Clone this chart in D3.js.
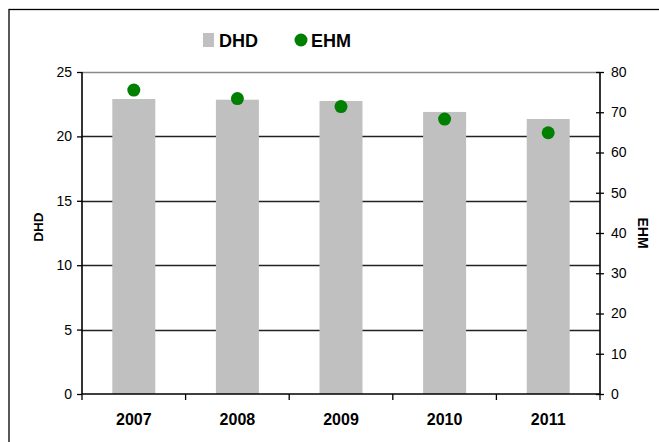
<!DOCTYPE html>
<html>
<head>
<meta charset="utf-8">
<script src="https://cdn.jsdelivr.net/npm/d3@7"></script>
<style>
  html, body { margin: 0; padding: 0; background: #fff; }
  svg { display: block; font-family: Arial, "Liberation Sans", sans-serif; }
</style>
</head>
<body>
<svg id="chart" width="659" height="442"></svg>
<script>
// Yearly values: DHD as bars (left axis), EHM as dots (right axis)
const years = ["2007", "2008", "2009", "2010", "2011"];
const dhd = [22.9, 22.85, 22.75, 21.9, 21.35];
const ehm = [75.5, 73.4, 71.4, 68.3, 64.9];
const leftTicks = [0, 5, 10, 15, 20, 25];
const rightTicks = [0, 10, 20, 30, 40, 50, 60, 70, 80];

const svg = d3.select("#chart");
const m = { left: 82, right: 600, top: 72, bottom: 394 };

const x = d3.scaleBand().domain(years).range([m.left, m.right]).paddingInner(0.585).paddingOuter(0.2925);
const xb = d3.scaleBand().domain(years).range([m.left, m.right]);
const yL = d3.scaleLinear().domain([0, 25]).range([m.bottom, m.top]);
const yR = d3.scaleLinear().domain([0, 80]).range([m.bottom, m.top]);

// Outer frame
svg.append("rect")
  .attr("x", 9).attr("y", 9.5).attr("width", 680).attr("height", 460)
  .attr("fill", "none").attr("stroke", "#000").attr("stroke-width", 1.3);

// Horizontal gridlines
svg.append("g").selectAll("line")
  .data(leftTicks.filter(d => d > 0))
  .join("line")
  .attr("x1", m.left).attr("x2", m.right)
  .attr("y1", d => Math.round(yL(d)) + 0.5).attr("y2", d => Math.round(yL(d)) + 0.5)
  .attr("stroke", d => d === 25 ? "#8a8a8a" : "#222")
  .attr("stroke-width", 1.4);

// Bars
svg.append("g").selectAll("rect")
  .data(years)
  .join("rect")
  .attr("x", (d) => x(d))
  .attr("width", x.bandwidth())
  .attr("y", (d, i) => yL(dhd[i]))
  .attr("height", (d, i) => yL(0) - yL(dhd[i]))
  .attr("fill", "#c0c0c0");

// Dots
svg.append("g").selectAll("circle")
  .data(years)
  .join("circle")
  .attr("cx", d => xb(d) + xb.bandwidth() / 2)
  .attr("cy", (d, i) => yR(ehm[i]))
  .attr("r", 6.5)
  .attr("fill", "#008000");

// Left axis
const gL = svg.append("g").attr("transform", `translate(${m.left},0)`)
  .call(d3.axisLeft(yL).tickValues(leftTicks).tickSize(5).tickPadding(5).tickFormat(d3.format("d")));
// Right axis
const gR = svg.append("g").attr("transform", `translate(${m.right},0)`)
  .call(d3.axisRight(yR).tickValues(rightTicks).tickSize(4).tickPadding(7).tickFormat(d3.format("d")));
gR.selectAll(".tick line").attr("x1", -4);
// Bottom axis with ticks at category boundaries
const gB = svg.append("g").attr("transform", `translate(0,${m.bottom})`)
  .call(d3.axisBottom(xb).tickSize(0).tickPadding(20));
gB.selectAll(".boundary")
  .data(d3.range(years.length + 1))
  .join("line")
  .attr("x1", i => m.left + i * xb.step()).attr("x2", i => m.left + i * xb.step())
  .attr("y1", 0).attr("y2", 6)
  .attr("stroke", "#000").attr("stroke-width", 1.3);

[gL, gR, gB].forEach(g => {
  g.select(".domain").attr("stroke", "#000").attr("stroke-width", 1.6);
  g.selectAll(".tick line").attr("stroke", "#000").attr("stroke-width", 1.3);
  g.selectAll("text").attr("fill", "#000").attr("font-family", "Arial, 'Liberation Sans', sans-serif");
});
gL.select(".domain").attr("d", `M0,${m.top}V${m.bottom}`);
gR.select(".domain").attr("d", `M0,${m.top}V${m.bottom}`);
gB.select(".domain").attr("d", `M${m.left},0H${m.right}`);
gL.selectAll("text").attr("font-size", 14);
gR.selectAll("text").attr("font-size", 14);
gB.selectAll("text").attr("font-size", 16).attr("font-weight", "bold");

// Axis titles
svg.append("text")
  .attr("transform", "translate(43,227) rotate(-90)")
  .attr("text-anchor", "middle")
  .attr("font-size", 13.5).attr("font-weight", "bold")
  .text("DHD");
svg.append("text")
  .attr("transform", "translate(638,233) rotate(90)")
  .attr("text-anchor", "middle")
  .attr("font-size", 14).attr("font-weight", "bold")
  .text("EHM");

// Legend
const lg = svg.append("g");
lg.append("rect").attr("x", 203).attr("y", 33).attr("width", 11).attr("height", 14).attr("fill", "#c0c0c0");
lg.append("text").attr("x", 219).attr("y", 47).attr("font-size", 18).attr("font-weight", "bold").text("DHD");
lg.append("circle").attr("cx", 301).attr("cy", 40).attr("r", 6.5).attr("fill", "#008000");
lg.append("text").attr("x", 311).attr("y", 47).attr("font-size", 18).attr("font-weight", "bold").text("EHM");
</script>
</body>
</html>
